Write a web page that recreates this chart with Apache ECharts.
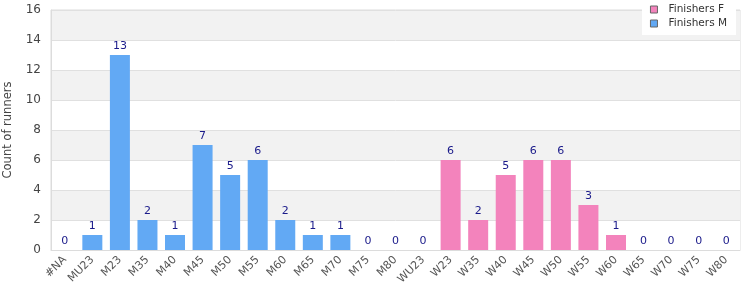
<!DOCTYPE html>
<html><head><meta charset="utf-8">
<script src="https://cdn.jsdelivr.net/npm/echarts@6/dist/echarts.min.js"></script>
<style>html,body{margin:0;padding:0;background:#fff}#c{width:750px;height:300px}</style>
</head><body><div id="c"></div>
<script>
var categories = ['#NA','MU23','M23','M35','M40','M45','M50','M55','M60','M65','M70','M75','M80','WU23','W23','W35','W40','W45','W50','W55','W60','W65','W70','W75','W80'];
var finishersM = [0,1,13,2,1,7,5,6,2,1,1,0,0,0,null,null,null,null,null,null,null,null,null,null,null];
var finishersF = [null,null,null,null,null,null,null,null,null,null,null,null,null,null,6,2,5,6,6,3,1,0,0,0,0];
var yTicks = [0,2,4,6,8,10,12,14,16];

var chart = echarts.init(document.getElementById('c'), null, {renderer:'canvas'});
var lbl = {show:true, position:'top', color:'#1a1a8a', fontSize:11, fontFamily:'DejaVu Sans', distance:3};
chart.setOption({
  animation:false,
  textStyle:{fontFamily:'DejaVu Sans'},
  grid:{left:51, right:10, top:10, bottom:50, show:true, borderColor:'#dcdcdc', borderWidth:1, containLabel:false, outerBoundsMode:'none'},
  legend:{
    right:14, top:0, orient:'vertical', backgroundColor:'#fff', padding:[4,9,6,8],
    icon:'rect', itemWidth:7, itemHeight:7, itemGap:3,
    textStyle:{fontSize:10.5, color:'#333', fontFamily:'DejaVu Sans', padding:[0,0,0,6]},
    data:[{name:'Finishers F', itemStyle:{borderColor:'#666', borderWidth:1}}, {name:'Finishers M', itemStyle:{borderColor:'#666', borderWidth:1}}]
  },
  xAxis:{
    type:'category', data:categories,
    axisLine:{lineStyle:{color:'#dcdcdc'}}, axisTick:{show:false},
    axisLabel:{rotate:45, interval:0, color:'#555', fontSize:11, margin:8}
  },
  yAxis:{
    type:'value', min:yTicks[0], max:yTicks[yTicks.length-1], interval:2,
    name:'Count of runners', nameLocation:'middle', nameGap:37, nameRotate:90,
    nameTextStyle:{color:'#444', fontSize:11.5},
    axisLine:{show:true, lineStyle:{color:'#dcdcdc'}}, axisTick:{show:false},
    axisLabel:{color:'#444', fontSize:12, margin:10},
    splitLine:{lineStyle:{color:'#e0e0e0'}},
    splitArea:{show:true, areaStyle:{color:['#ffffff','#f2f2f2']}}
  },
  series:[
    {name:'Finishers F', type:'bar', stack:'a', data:finishersF, barWidth:20, itemStyle:{color:'#f383bc'}, label:lbl},
    {name:'Finishers M', type:'bar', stack:'a', data:finishersM, barWidth:20, itemStyle:{color:'#62a9f4'}, label:lbl}
  ]
});
</script></body></html>
